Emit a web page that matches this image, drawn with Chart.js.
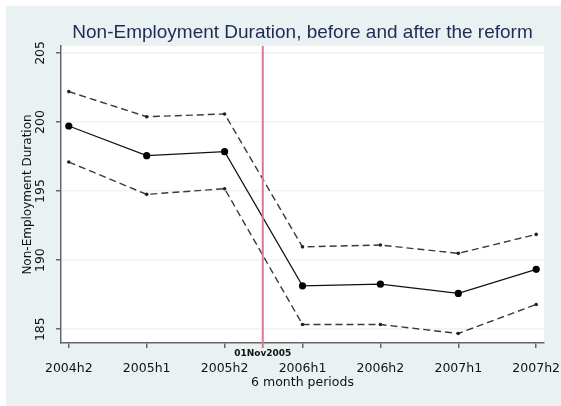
<!DOCTYPE html>
<html>
<head>
<meta charset="utf-8">
<script src="https://cdn.jsdelivr.net/npm/chart.js@4"></script>
<style>
    html, body { margin: 0; padding: 0; background: #ffffff; }
    #wrap { width: 561px; height: 406px; }
</style>
</head>
<body>
<div id="wrap"><canvas id="myChart"></canvas></div>
<script>
// Periods and estimates (mean with upper / lower band)
const periods = ['2004h2', '2005h1', '2005h2', '2006h1', '2006h2', '2007h1', '2007h2'];
const meanDuration = [199.71, 197.56, 197.85, 188.14, 188.26, 187.59, 189.33];
const upperBound = [202.2, 200.38, 200.58, 190.96, 191.09, 190.49, 191.86];
const lowerBound = [197.1, 194.76, 195.17, 185.34, 185.34, 184.69, 186.79];
const yTicks = [185, 190, 195, 200, 205];

// reform date sits between 2005h2 and 2006h1
const reformPos = 2.49;
const reformLabel = '01Nov2005';

const toPoints = arr => arr.map((v, i) => ({ x: i, y: v }));

const textFont = "'DejaVu Sans', sans-serif";

// Start Labels plugin
const labelsPlugin = {
    id: 'labels',
    afterDraw(chart) {
        const ctx = chart.ctx;
        const area = chart.chartArea;
        const xs = chart.scales.x;
        const ys = chart.scales.y;
        ctx.save();

        // reform marker
        const rx = xs.getPixelForValue(reformPos);
        ctx.strokeStyle = '#e07890';
        ctx.lineWidth = 2;
        ctx.beginPath();
        ctx.moveTo(rx, area.top);
        ctx.lineTo(rx, area.bottom + 5);
        ctx.stroke();

        // title
        ctx.fillStyle = '#1f2b56';
        ctx.font = "19px 'Liberation Sans', Arial, sans-serif";
        ctx.textAlign = 'center';
        ctx.textBaseline = 'middle';
        ctx.fillText('Non-Employment Duration, before and after the reform', (area.left + area.right) / 2, 33);

        // x tick labels
        ctx.fillStyle = '#111';
        ctx.font = '12.5px ' + textFont;
        periods.forEach((p, i) => {
            ctx.fillText(p, xs.getPixelForValue(i), 369);
        });
        ctx.fillText('6 month periods', (area.left + area.right) / 2, 383);

        ctx.font = 'bold 9px ' + textFont;
        ctx.fillText(reformLabel, rx, 354);

        // y tick labels, rotated
        ctx.font = '12.5px ' + textFont;
        yTicks.forEach(t => {
            ctx.save();
            ctx.translate(41, ys.getPixelForValue(t));
            ctx.rotate(-Math.PI / 2);
            ctx.fillText(String(t), 0, 0);
            ctx.restore();
        });
        ctx.font = '12px ' + textFont;
        ctx.save();
        ctx.translate(28, (area.top + area.bottom) / 2);
        ctx.rotate(-Math.PI / 2);
        ctx.fillText('Non-Employment Duration', 0, 0);
        ctx.restore();

        ctx.restore();
    }
};
// !!End Labels plugin

const ctx = document.getElementById('myChart').getContext('2d');

new Chart(ctx, {
    type: 'line',
    data: {
        datasets: [{
            label: 'upper',
            data: toPoints(upperBound),
            borderColor: '#3a3a3a',
            borderWidth: 1.4,
            borderDash: [7, 4],
            pointRadius: 1.8,
            pointBackgroundColor: '#222',
            pointBorderWidth: 0,
            tension: 0
        }, {
            label: 'mean',
            data: toPoints(meanDuration),
            borderColor: '#111',
            borderWidth: 1.2,
            pointRadius: 3.6,
            pointBackgroundColor: '#000',
            pointBorderWidth: 0,
            tension: 0
        }, {
            label: 'lower',
            data: toPoints(lowerBound),
            borderColor: '#3a3a3a',
            borderWidth: 1.4,
            borderDash: [7, 4],
            pointRadius: 1.8,
            pointBackgroundColor: '#222',
            pointBorderWidth: 0,
            tension: 0
        }]
    },
    options: {
        responsive: true,
        maintainAspectRatio: false,
        animation: false,
        layout: {
            padding: { top: 46, right: 17, left: 0, bottom: 0 }
        },
        scales: {
            x: {
                type: 'linear',
                min: -0.1,
                max: 6.1,
                afterFit(scale) { scale.height = 63; },
                afterBuildTicks(scale) {
                    scale.ticks = periods.map((p, i) => ({ value: i }));
                },
                ticks: { display: false },
                grid: {
                    drawOnChartArea: false,
                    tickColor: '#666',
                    tickLength: 5,
                    lineWidth: 1.5
                },
                border: { color: '#666', width: 1.5 }
            },
            y: {
                min: 184,
                max: 205.5,
                afterFit(scale) { scale.width = 61; },
                afterBuildTicks(scale) {
                    scale.ticks = yTicks.map(t => ({ value: t }));
                },
                ticks: { display: false },
                grid: {
                    color: '#eef4f4',
                    tickColor: '#666',
                    tickLength: 5,
                    lineWidth: 1.5
                },
                border: { color: '#666', width: 1.5 }
            }
        },
        plugins: {
            legend: { display: false },
            tooltip: { enabled: false }
        }
    },
    plugins: [{
        id: 'plotBackground',
        beforeDraw(chart) {
            const c = chart.ctx;
            const a = chart.chartArea;
            c.save();
            // outer panel, with a thin white frame on top and left
            c.fillStyle = '#e9f1f3';
            c.fillRect(6, 6, chart.width - 6, chart.height - 6);
            c.fillStyle = '#ffffff';
            c.fillRect(a.left, a.top, a.right - a.left, a.bottom - a.top);
            c.restore();
        }
    }, labelsPlugin]
});
</script>
</body>
</html>
